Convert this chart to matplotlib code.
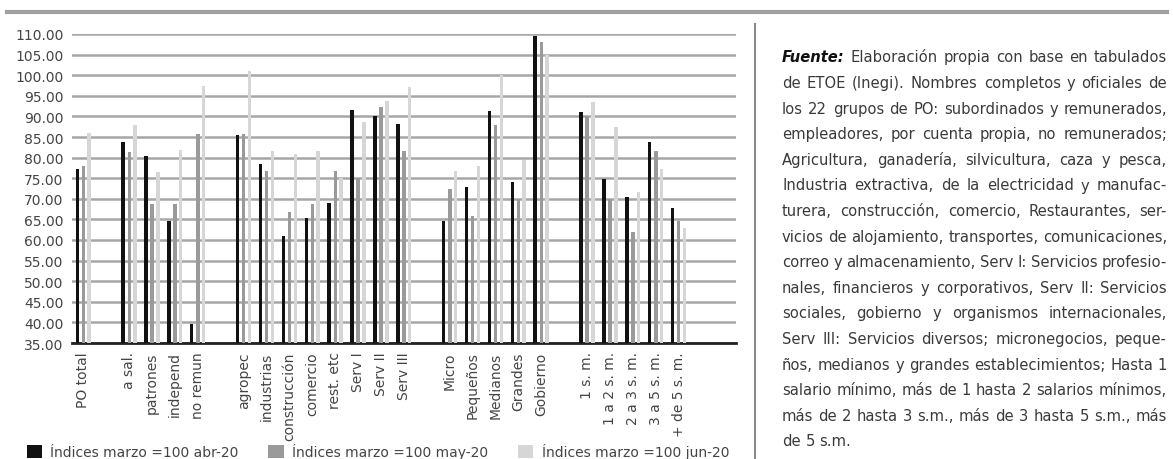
import numpy as np
import matplotlib
matplotlib.use('Agg')
import matplotlib.pyplot as plt
from matplotlib.patches import Patch
from matplotlib.lines import Line2D

nan = np.nan

# categories ('' = empty slot between groups)
categories = ['PO total', '', 'a sal.', 'patrones', 'independ', 'no remun', '',
              'agropec', 'industrias', 'construcción', 'comercio', 'rest. etc',
              'Serv I', 'Serv II', 'Serv III', '',
              'Micro', 'Pequeños', 'Medianos', 'Grandes', 'Gobierno', '',
              '1 s. m.', '1 a 2 s. m.', '2 a 3 s. m.', '3 a 5 s. m.', '+ de 5 s. m.', '', '']

abr_20 = [77.3, nan, 83.8, 80.4, 64.5, 39.6, nan,
          85.4, 78.4, 61.0, 65.3, 69.1, 91.6, 90.1, 88.2, nan,
          64.6, 72.9, 91.3, 74.1, 109.4, nan,
          91.1, 74.8, 70.5, 83.8, 67.8, nan, nan]
may_20 = [78.0, nan, 81.4, 68.7, 68.7, 85.7, nan,
          85.7, 76.7, 66.8, 68.7, 76.7, 75.0, 92.3, 81.6, nan,
          72.4, 65.8, 88.0, 70.0, 108.0, nan,
          90.0, 70.0, 62.0, 81.6, 64.6, nan, nan]
jun_20 = [86.0, nan, 88.0, 76.5, 81.8, 97.4, nan,
          101.0, 81.6, 80.8, 81.6, 75.0, 88.6, 93.7, 97.1, nan,
          76.7, 78.0, 100.0, 79.5, 105.0, nan,
          93.5, 87.4, 71.6, 77.2, 63.0, nan, nan]

series_labels = ['Índices marzo =100 abr-20', 'Índices marzo =100 may-20', 'Índices marzo =100 jun-20']
colors = ['#111111', '#9a9a9a', '#d6d6d6']

note_lines = [
    'Fuente: Elaboración propia con base en tabulados',
    'de ETOE (Inegi). Nombres completos y oficiales de',
    'los 22 grupos de PO: subordinados y remunerados,',
    'empleadores, por cuenta propia, no remunerados;',
    'Agricultura, ganadería, silvicultura, caza y pesca,',
    'Industria extractiva, de la electricidad y manufac-',
    'turera, construcción, comercio, Restaurantes, ser-',
    'vicios de alojamiento, transportes, comunicaciones,',
    'correo y almacenamiento, Serv I: Servicios profesio-',
    'nales, financieros y corporativos, Serv II: Servicios',
    'sociales, gobierno y organismos internacionales,',
    'Serv III: Servicios diversos; micronegocios, peque-',
    'ños, medianos y grandes establecimientos; Hasta 1',
    'salario mínimo, más de 1 hasta 2 salarios mínimos,',
    'más de 2 hasta 3 s.m., más de 3 hasta 5 s.m., más',
    'de 5 s.m.',
]

W, H = 1173, 460
fig = plt.figure(figsize=(W / 100, H / 100), dpi=100)
ax = fig.add_axes([72 / W, 1 - 344 / H, (736 - 72) / W, (344 - 35) / H])

x = np.arange(len(categories))
offs = [-0.27, 0.0, 0.25]
for vals, off, c, lab in zip([abr_20, may_20, jun_20], offs, colors, series_labels):
    v = np.array(vals, dtype=float)
    ax.bar(x + off, v - 35, 0.15, bottom=35, color=c, label=lab, zorder=3)

ax.set_xlim(-0.5, len(categories) - 0.5)
ax.set_ylim(35, 110)
ax.set_yticks(np.arange(35, 111, 5))
ax.set_yticklabels(['%.2f' % t for t in np.arange(35, 111, 5)], fontsize=10, color='#444444')
tick_idx = [i for i, c in enumerate(categories) if c]
ax.set_xticks(tick_idx)
ax.set_xticklabels([categories[i] for i in tick_idx], rotation=90, fontsize=10, color='#444444')
ax.tick_params(length=0, pad=6)
ax.yaxis.grid(True, color='#a6a6a6', lw=1.8, zorder=0)
ax.set_axisbelow(True)
for s in ['top', 'right', 'left']:
    ax.spines[s].set_visible(False)
ax.spines['bottom'].set_linewidth(2)
ax.spines['bottom'].set_color('#222222')

# legend
handles = [Patch(facecolor=c, edgecolor='none') for c in colors]
fig.legend(handles, series_labels, loc='center left', bbox_to_anchor=(14 / W, 1 - 452 / H),
           ncol=3, frameon=False, fontsize=10, handlelength=1.1, handleheight=1.1,
           handletextpad=0.6, columnspacing=2.15, labelcolor='#444444')

# top rule and separator
fig.add_artist(Line2D([7 / W, 1167 / W], [1 - 13 / H, 1 - 13 / H], color='#a0a0a0', lw=3))
fig.add_artist(Line2D([755 / W, 755 / W], [1 - 25 / H, 0], color='#8a8a8a', lw=1.5))

# justified note text
renderer = fig.canvas.get_renderer()
x0, x1 = 782, 1167
y0, dy = 58, 25.6
nat = max(fig.text(0, 0, l, fontsize=10).get_window_extent(renderer).width for l in note_lines)
for t in list(fig.texts):
    t.remove()
size = 10 * (x1 - x0) / nat
space = fig.text(0, 0, 'a a', fontsize=size).get_window_extent(renderer).width - \
    fig.text(0, 0, 'aa', fontsize=size).get_window_extent(renderer).width
for t in list(fig.texts):
    t.remove()

for i, line in enumerate(note_lines):
    words = line.split(' ')
    y = 1 - (y0 + i * dy) / H
    texts = []
    for j, w in enumerate(words):
        kw = dict(fontweight='bold', fontstyle='italic', color='#111111') if (i == 0 and j == 0) else dict(color='#3a3a3a')
        texts.append(fig.text(0, y, w, fontsize=size, va='center', ha='left', **kw))
    widths = [t.get_window_extent(renderer).width for t in texts]
    if i == len(note_lines) - 1 or len(words) == 1:
        gap = space
    else:
        gap = ((x1 - x0) - sum(widths)) / (len(words) - 1)
    xp = x0
    for t, wd in zip(texts, widths):
        t.set_x(xp / W)
        xp += wd + gap

fig.savefig('out.png', dpi=100)
